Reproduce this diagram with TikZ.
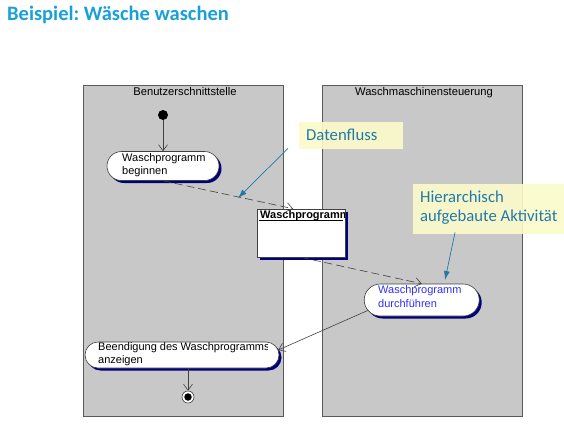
\documentclass[tikz,border=0pt]{standalone}
\usepackage{fontspec}
\setmainfont{Liberation Sans}
\newfontfamily\calibri{Carlito}
\usetikzlibrary{shapes.misc,arrows.meta,calc,shadows}
\definecolor{lanefill}{HTML}{C8C8C8}
\definecolor{laneline}{HTML}{5A5A5A}
\definecolor{shadownavy}{HTML}{00007A}
\definecolor{titleblue}{HTML}{1AA0D8}
\definecolor{noteblue}{HTML}{2279A8}
\definecolor{noteyellow}{HTML}{FBFBCB}
\definecolor{actblue}{HTML}{3030FF}
\definecolor{edgegray}{HTML}{404040}
\frenchspacing
\begin{document}
\begin{tikzpicture}[x=1pt,y=-1pt,
  lane/.style={draw=laneline, fill=lanefill, line width=0.8pt},
  lanetitle/.style={anchor=base, inner sep=0pt, font=\fontsize{11.2}{13}\selectfont},
  act/.style={rounded rectangle, draw=edgegray, fill=white, line width=0.6pt, inner sep=0pt,
    drop shadow={shadow xshift=2.5pt, shadow yshift=-2.5pt, fill=shadownavy, opacity=1}},
  objbox/.style={rectangle, draw=edgegray, fill=white, line width=0.6pt, inner sep=0pt,
    drop shadow={shadow xshift=3pt, shadow yshift=-3pt, fill=shadownavy, opacity=1}},
  txt/.style={anchor=base west, inner sep=0pt, font=\fontsize{11}{13}\selectfont},
  flow/.style={draw=edgegray, line width=0.6pt, -{Straight Barb[length=6pt,width=9pt]}},
  dflow/.style={flow, dash pattern=on 8pt off 4pt},
  note/.style={rectangle, fill=noteyellow, fill opacity=0.9, inner sep=0pt, anchor=north west},
  notetext/.style={anchor=base west, inner sep=0pt, text=noteblue, font=\calibri\fontsize{16.7}{19}\selectfont},
  callarrow/.style={draw=noteblue, line width=0.7pt, -{Latex[length=9pt,width=6pt]}}
]
\useasboundingbox (0,0) rectangle (564,426);

% title
\node[anchor=base west, inner sep=0pt, text=titleblue, font=\calibri\bfseries\fontsize{20.5}{24}\selectfont] (title) at (7,20.7) {Beispiel: Wäsche waschen};

% swimlanes
\node[lane, minimum width=200pt, minimum height=331pt, anchor=north west, inner sep=0pt] (L1) at (83,85) {};
\node[lane, minimum width=200pt, minimum height=331pt, anchor=north west, inner sep=0pt] (L2) at (322,85) {};
\node[lanetitle] (L1t) at (185,95) {Benutzerschnittstelle};
\node[lanetitle] (L2t) at (424,95) {Waschmaschinensteuerung};

% start
\node[circle, fill=black, minimum size=10pt, inner sep=0pt] (S) at (163,115) {};

% activities
\node[act, minimum width=112pt, minimum height=29pt] (A) at (163,166) {};
\node[txt] (A1) at (122,161) {Waschprogramm};
\node[txt] (A2) at (122,174.5) {beginnen};

\node[objbox, minimum width=88pt, minimum height=48pt] (O) at (301,233) {};
\begin{scope}
\clip (257,205) rectangle (344,230);
\node[txt, font=\bfseries\fontsize{11}{13}\selectfont] (O1) at (260,218) {Waschprogramm};
\end{scope}
\draw[line width=0.7pt, black] ($(O.north west)+(2,12)$) coordinate (u1) -- ($(O.north east)+(-2,12)$) coordinate (u2);

\node[act, minimum width=115pt, minimum height=32pt] (D) at (421.7,300) {};
\node[txt, text=actblue] (D1) at (378,293.5) {Waschprogramm};
\node[txt, text=actblue] (D2) at (378,307) {durchführen};

\node[act, minimum width=194pt, minimum height=26pt] (E) at (182,355) {};
\begin{scope}
\clip (90,338) rectangle (267,372);
\node[txt] (E1) at (98,350.7) {Beendigung des Waschprogramms};
\end{scope}
\node[txt] (E2) at (98,363.5) {anzeigen};

% end
\node[circle, draw=edgegray, fill=white, line width=0.6pt, minimum size=12pt, inner sep=0pt] (F) at (188,397) {};
\node[circle, fill=black, minimum size=7.5pt, inner sep=0pt] (Fin) at (F) {};

% flows
\draw[flow] (S.south) -- (A.north);
\draw[dflow] (A.south) -- ($(O.north)+(-8,0)$);
\draw[dflow] (O.south) -- (D.north);
\draw[flow] (D.191) -- (E.3);
\draw[flow] ($(E.south)+(6,0)$) -- (F.north);

% callouts
\node[note, minimum width=104pt, minimum height=27pt] (C1) at (299,122) {};
\node[notetext] (C1t) at (306,140.5) {Datenfluss};
\coordinate (p1) at (238,198);
\draw[callarrow] ($(C1.south west)+(-11,-1)$) -- (p1);

\node[note, minimum width=151pt, minimum height=50pt] (C2) at (413,184) {};
\node[notetext] (C2a) at (420,202) {Hierarchisch};
\node[notetext] (C2b) at (420,221.5) {aufgebaute Aktivität};
\coordinate (p2) at (445,280);
\draw[callarrow] ($(C2.south west)+(42,-2)$) -- (p2);
\end{tikzpicture}
\end{document}
